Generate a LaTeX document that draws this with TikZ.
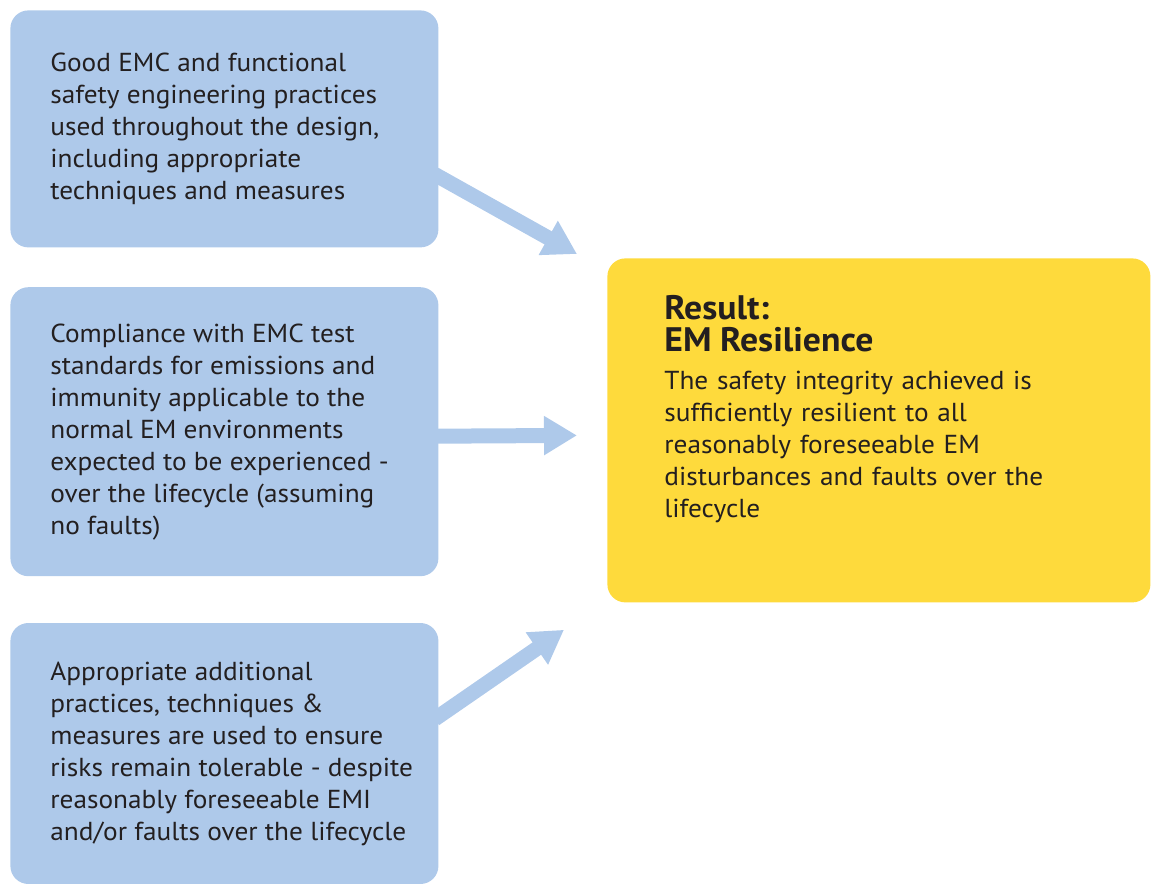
\documentclass[tikz,border=0pt]{standalone}
\usepackage{fontspec}
\setmainfont[FakeStretch=1.05]{PT Sans}
\usepackage{xcolor}
\usepackage{tikz}
\usetikzlibrary{calc,positioning,arrows.meta}
\definecolor{boxblue}{HTML}{AEC9EA}
\definecolor{resyellow}{HTML}{FEDA3C}
\definecolor{ink}{HTML}{231F20}
\tikzset{
  srcbox/.style={fill=boxblue, rounded corners=9pt, minimum width=214pt, inner sep=0pt, anchor=north west},
  resbox/.style={fill=resyellow, rounded corners=9pt, minimum width=271.5pt, minimum height=172pt, inner sep=0pt, anchor=north west},
  txt/.style={text=ink, align=left, inner sep=0pt, font=\fontsize{13}{16}\selectfont},
  flow/.style={draw=boxblue, line width=7.5pt, -{Triangle[length=16.5pt,width=18.5pt]}}
}

\begin{document}
\begin{tikzpicture}[x=0.5pt,y=-0.5pt]
  \useasboundingbox (0,0) rectangle (1152,884);

  % the three inputs
  \node[srcbox, minimum height=118.5pt] (good) at (10,10) {};
  \node[srcbox, minimum height=144.5pt, below=19.5pt of good.south west, anchor=north west] (comp) {};
  \node[srcbox, minimum height=130.5pt, below=23pt of comp.south west, anchor=north west] (extra) {};

  % the result
  \node[resbox] (result) at (607,258) {};

  \node[txt, right=20pt of good.west] (goodtxt) {Good EMC and functional\\safety engineering practices\\used throughout the design,\\including appropriate\\techniques and measures};
  \node[txt, right=20pt of comp.west] (comptxt) {Compliance with EMC test\\standards for emissions and\\immunity applicable to the\\normal EM environments\\expected to be experienced -\\over the lifecycle (assuming\\no faults)};
  \node[txt, right=20pt of extra.west] (extratxt) {Appropriate additional\\practices, techniques \&\\measures are used to ensure\\risks remain tolerable - despite\\reasonably foreseeable EMI\\and/or faults over the lifecycle};

  \node[txt, text width=210pt, anchor=north west] (restxt) at ($(result.north west)+(57,37)$)
    {\fontsize{17}{16}\selectfont\bfseries Result:\\EM Resilience\\[3pt]
     \fontsize{13}{16}\selectfont\mdseries The safety integrity achieved is\\sufficiently resilient to all\\reasonably foreseeable EM\\disturbances and faults over the\\lifecycle};

  % arrow tips stop short of the result box
  \coordinate (tipa) at ($(result.north west)+(-30,-4)$);
  \coordinate (tipb) at ($(result.west)+(-30,5)$);
  \coordinate (tipc) at ($(result.south west)+(-43,27)$);

  \draw[flow] ([xshift=-2pt,yshift=-22.75pt]good.east) -- (tipa);
  \draw[flow] ([xshift=-2pt,yshift=-2.25pt]comp.east) -- (tipb);
  \draw[flow] ([xshift=-2pt,yshift=17.25pt]extra.east) -- (tipc);
\end{tikzpicture}
\end{document}
